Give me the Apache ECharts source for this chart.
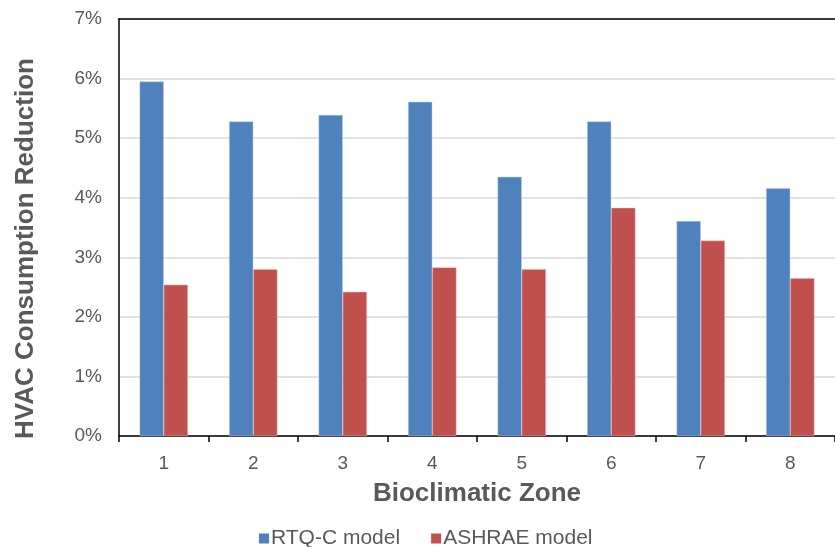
<!DOCTYPE html>
<html>
<head>
<meta charset="utf-8">
<script src="https://cdn.jsdelivr.net/npm/echarts@6/dist/echarts.min.js"></script>
<style>html,body{margin:0;padding:0;background:#fff;}#c{width:835px;height:547px;}</style>
</head>
<body>
<div id="c"></div>
<script>
var categories = ['1', '2', '3', '4', '5', '6', '7', '8'];
var rtqC = [5.95, 5.28, 5.39, 5.61, 4.35, 5.28, 3.61, 4.16];
var ashrae = [2.54, 2.80, 2.42, 2.83, 2.80, 3.83, 3.28, 2.65];
var seriesNames = ['RTQ-C model', 'ASHRAE model'];

var font = 'Liberation Sans, Arial, sans-serif';
var grey = '#595959';
var chart = echarts.init(document.getElementById('c'));
chart.setOption({
  animation: false,
  textStyle: { fontFamily: font },
  grid: { left: 119, right: -9, top: 19, bottom: 111, containLabel: false },
  legend: {
    data: seriesNames,
    left: 254, top: 523,
    itemWidth: 10, itemHeight: 10, itemGap: 31,
    icon: 'rect',
    itemStyle: { borderWidth: 0 },
    textStyle: { fontSize: 21, color: grey, fontFamily: font, padding: [0, 0, 0, -3] }
  },
  xAxis: [{
    type: 'category',
    data: categories,
    name: 'Bioclimatic Zone',
    nameLocation: 'middle',
    nameGap: 45,
    nameTextStyle: { fontSize: 26, fontWeight: 'bold', color: grey, fontFamily: font },
    axisLine: { lineStyle: { color: '#000', width: 1.5 } },
    axisTick: { show: true, length: 6, lineStyle: { color: '#000', width: 1.5 } },
    axisLabel: { fontSize: 19, color: grey, margin: 18, fontFamily: font },
    splitLine: { show: false }
  }, {
    type: 'category',
    data: categories,
    position: 'top',
    axisLine: { show: true, lineStyle: { color: '#000', width: 1.5 } },
    axisTick: { show: false },
    axisLabel: { show: false }
  }],
  yAxis: {
    type: 'value',
    min: 0, max: 7, interval: 1,
    name: 'HVAC Consumption Reduction',
    nameLocation: 'middle',
    nameGap: 80,
    nameTextStyle: { fontSize: 26, fontWeight: 'bold', color: grey, fontFamily: font, padding: [0, 42, 0, 0] },
    axisLine: { show: true, lineStyle: { color: '#000', width: 1.5 } },
    axisTick: { show: false },
    axisLabel: { fontSize: 19, color: grey, margin: 17, fontFamily: font, formatter: '{value}%' },
    splitLine: { lineStyle: { color: '#d9d9d9', width: 1.5 } }
  },
  series: [{
    name: seriesNames[0],
    type: 'bar',
    data: rtqC,
    barWidth: '27%',
    barGap: '0%',
    itemStyle: { color: '#4f81bd', borderColor: '#b8cce4', borderWidth: 0.5 }
  }, {
    name: seriesNames[1],
    type: 'bar',
    data: ashrae,
    barWidth: '27%',
    barGap: '0%',
    itemStyle: { color: '#c0504d', borderColor: '#e6b9b8', borderWidth: 0.5 }
  }]
});
</script>
</body>
</html>
